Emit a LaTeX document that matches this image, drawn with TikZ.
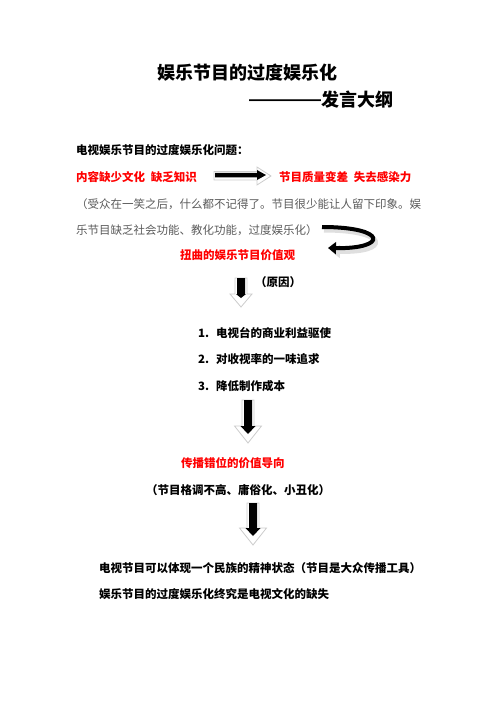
\documentclass[tikz,border=0pt]{standalone}
\usepackage{fontspec}
\setmainfont{Noto Sans CJK SC}
\newfontfamily\dashfont{Liberation Sans}
\usetikzlibrary{arrows.meta}

\definecolor{alertred}{RGB}{255,0,0}
\definecolor{notegray}{RGB}{90,90,90}

\tikzset{
  txt/.style={anchor=west, inner sep=0pt, font=\fontsize{11.5}{14}\selectfont\bfseries},
  headline/.style={txt, font=\fontsize{18}{22}\selectfont\bfseries},
  alert/.style={txt, text=alertred},
  note/.style={anchor=west, inner sep=0pt, text=notegray, font=\fontsize{11.5}{14}\selectfont},
  bevel/.style={fill=white, draw=gray!40, line width=0.8pt},
}

\begin{document}
\begin{tikzpicture}[x=1pt,y=-1pt]
  \useasboundingbox (0,0) rectangle (496,702);

  \node[headline] (title) at (157,73) {娱乐节目的过度娱乐化};
  \node[headline] (subtitle) at (249,100) {\raisebox{1.5pt}{\dashfont\bfseries ————}发言大纲};

  \node[txt] (question) at (76,150) {电视娱乐节目的过度娱乐化问题：};
  \node[alert] (cause) at (76,177) {内容缺少文化\enspace 缺乏知识};
  \node[alert] (effect) at (279,177) {节目质量变差\enspace 失去感染力};
  \node[note] (note1) at (76,204) {（受众在一笑之后，什么都不记得了。节目很少能让人留下印象。娱};
  \node[note] (note2) at (76,230) {乐节目缺乏社会功能、教化功能，过度娱乐化）};
  \node[alert] (value) at (180,255) {扭曲的娱乐节目价值观};
  \node[txt] (reason) at (255,282) {（原因）};

  \foreach \n/\txt/\y in {1/电视台的商业利益驱使/333, 2/对收视率的一味追求/359, 3/降低制作成本/386}
    \node[txt] (item\n) at (198,\y) {\makebox[18pt][l]{\n.}\txt};

  \node[alert] (guide) at (181,463) {传播错位的价值导向};
  \node[txt] (remark) at (146,490) {（节目格调不高、庸俗化、小丑化）};
  \node[txt] (concl1) at (99,568) {电视节目可以体现一个民族的精神状态（节目是大众传播工具）};
  \node[txt] (concl2) at (99,594) {娱乐节目的过度娱乐化终究是电视文化的缺失};

  % right arrow
  \filldraw[bevel] (214,171.5) -- (257,171.5) -- (257,167) -- (271,176) -- (257,185) -- (257,180) -- (214,180) -- cycle;
  \fill (215,172.8) -- (257,172.8) -- (257,170) -- (266,175) -- (257,180) -- (257,177.3) -- (215,177.3) -- cycle;

  % down arrows: centre / top / tip / head half-width / head length
  \foreach \x/\t/\b/\h/\l in {241/278/307/11/13, 248/400/443/13.5/17, 253/503/545/13.5/17} {
    \filldraw[bevel, shift={(\x,0)}] (-6,\t) -- (6,\t) -- (6,\b-\l) -- (\h,\b-\l)
      -- (0,\b) -- (-\h,\b-\l) -- (-6,\b-\l) -- cycle;
    \fill[shift={(\x,0)}] (-4,\t) -- (4,\t) -- (4,\b-\l) -- (\h-6,\b-\l)
      -- (0,\b-9) -- (-\h+6,\b-\l) -- (-4,\b-\l) -- cycle;
  }

  % curved arrow
  \draw[gray!25, line width=5pt, -{Triangle[length=9pt,width=13pt]}]
    (324,230) .. controls (390,230) and (390,253) .. (331,251);
  \draw[line width=4pt, -{Triangle[length=8pt,width=12pt]}]
    (322,227) .. controls (388,227) and (388,249) .. (328,248);
\end{tikzpicture}
\end{document}
